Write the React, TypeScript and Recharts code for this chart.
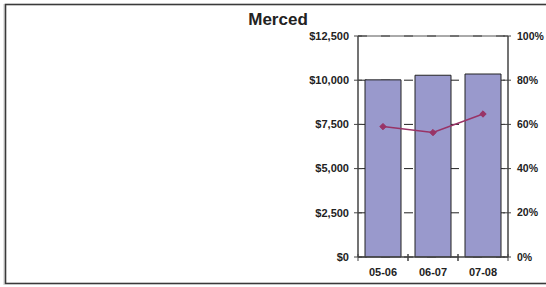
import React from 'react';
import { ComposedChart, Bar, Line, XAxis, YAxis, CartesianGrid, ReferenceLine } from 'recharts';

const categories = ['05-06', '06-07', '07-08'];
const amounts = [10020, 10280, 10350];
const rates = [59, 56.3, 64.7];
const leftTicks = [0, 2500, 5000, 7500, 10000, 12500];
const rightTicks = [0, 20, 40, 60, 80, 100];
const title = 'Merced';

const data = categories.map((c, i) => ({ cat: c, amount: amounts[i], rate: rates[i] }));

const FONT = 'Liberation Sans, Arial, sans-serif';
const AX = '#444';
const TS = 4;
const TM = 5;

const fmtMoney = (v: number) => '$' + v.toLocaleString('en-US');

const LeftTick = (p: any) => {
  const ax = p.x + TS + TM;
  return (
    <g>
      <line x1={ax - 4} x2={ax + 4} y1={p.y} y2={p.y} stroke={AX} strokeWidth={1} />
      <text x={p.x} y={p.y} dy="0.35em" textAnchor="end" fontFamily={FONT} fontWeight="bold" fontSize={11} fill="#222">
        {fmtMoney(p.payload.value)}
      </text>
    </g>
  );
};

const RightTick = (p: any) => {
  const ax = p.x - TS - TM - 1;
  return (
    <g>
      <line x1={ax - 4} x2={ax + 4} y1={p.y} y2={p.y} stroke={AX} strokeWidth={1} />
      <text x={p.x} y={p.y} dy="0.35em" textAnchor="start" fontFamily={FONT} fontWeight="bold" fontSize={10.5} fill="#222">
        {p.payload.value + '%'}
      </text>
    </g>
  );
};

const XTick = (p: any) => {
  const ay = p.y - TS - 7;
  const off = p.payload.offset || 25;
  return (
    <g>
      <line x1={p.x + off} x2={p.x + off} y1={ay - 3} y2={ay + 4} stroke={AX} strokeWidth={1} />
      <line x1={p.x - off} x2={p.x - off} y1={ay - 3} y2={ay + 4} stroke={AX} strokeWidth={1} />
      <text x={p.x} y={p.y} dy="0.71em" textAnchor="middle" fontFamily={FONT} fontWeight="bold" fontSize={11} fill="#222">
        {p.payload.value}
      </text>
    </g>
  );
};

const Diamond = (p: any) => {
  const { cx, cy } = p;
  if (cx == null || cy == null) return null;
  const s = 3.2;
  return <path d={`M${cx},${cy - s}L${cx + s},${cy}L${cx},${cy + s}L${cx - s},${cy}Z`} fill="#993366" stroke="#993366" />;
};

export default function App() {
  return (
    <div style={{ position: 'absolute', left: 0, top: 0, width: 546, height: 287, overflow: 'hidden', background: '#fff' }}>
      <ComposedChart width={546} height={287} data={data} margin={{ top: 36, right: 0, bottom: 0, left: 298 }} barCategoryGap={14}>
        <text x={278} y={25} textAnchor="middle" fontFamily={FONT} fontWeight="bold" fontSize={17} fill="#222">
          {title}
        </text>
        <CartesianGrid vertical={false} horizontal stroke="#222" strokeDasharray="9 14" yAxisId="left" />
        <XAxis
          dataKey="cat"
          height={30}
          axisLine={{ stroke: AX, strokeWidth: 1.5 }}
          tickLine={false}
          tickSize={TS}
          tickMargin={7}
          tick={(p: any) => <XTick {...p} />}
          interval={0}
        />
        <YAxis
          yAxisId="left"
          orientation="left"
          width={60}
          domain={[0, 12500]}
          ticks={leftTicks}
          axisLine={{ stroke: AX, strokeWidth: 1.5 }}
          tickLine={false}
          tickSize={TS}
          tickMargin={TM}
          tick={(p: any) => <LeftTick {...p} />}
          interval={0}
        />
        <YAxis
          yAxisId="right"
          orientation="right"
          width={38}
          domain={[0, 100]}
          ticks={rightTicks}
          axisLine={{ stroke: AX, strokeWidth: 1.5 }}
          tickLine={false}
          tickSize={TS}
          tickMargin={TM}
          tick={(p: any) => <RightTick {...p} />}
          interval={0}
        />
        <ReferenceLine yAxisId="left" y={12500} stroke="#555" strokeWidth={1} />
        <Bar yAxisId="left" dataKey="amount" fill="#9999CC" stroke="#222" strokeWidth={1} barSize={36} isAnimationActive={false} />
        <Line
          yAxisId="right"
          dataKey="rate"
          stroke="#993366"
          strokeWidth={1.5}
          dot={(p: any) => <Diamond key={p.index} {...p} />}
          activeDot={false}
          isAnimationActive={false}
        />
      </ComposedChart>
      <svg width={546} height={287} style={{ position: 'absolute', left: 0, top: 0, pointerEvents: 'none' }}>
        <line x1={4} x2={4} y1={4} y2={285} stroke="#c8c8c8" strokeWidth={1} />
        <rect x={5.5} y={4.5} width={600} height={279} fill="none" stroke="#3a3a3a" strokeWidth={1.6} />
      </svg>
    </div>
  );
}
